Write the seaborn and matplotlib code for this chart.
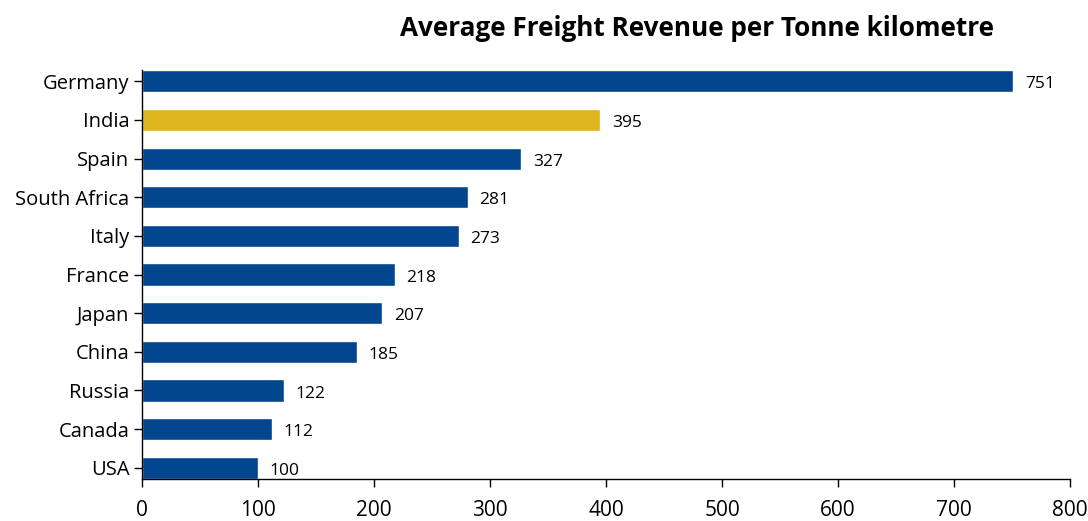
import matplotlib
matplotlib.use("Agg")
import matplotlib.pyplot as plt
import seaborn as sns
import pandas as pd

countries = ["Germany", "India", "Spain", "South Africa", "Italy", "France",
             "Japan", "China", "Russia", "Canada", "USA"]
revenue = [751, 395, 327, 281, 273, 218, 207, 185, 122, 112, 100]
highlight = "India"
x_ticks = [0, 100, 200, 300, 400, 500, 600, 700, 800]
title = "Average Freight Revenue per Tonne kilometre"

BLUE = "#02468F"
GOLD = "#DFB51E"

sns.set_theme(style="white")
plt.rcParams["font.family"] = ["Open Sans", "DejaVu Sans"]

df = pd.DataFrame({"country": countries, "revenue": revenue})
palette = {c: (GOLD if c == highlight else BLUE) for c in countries}

fig = plt.figure(figsize=(10.88, 5.21), dpi=100)
ax = fig.add_axes([0.1305, 0.0806, 0.853, 0.785])

sns.barplot(data=df, x="revenue", y="country", hue="country", palette=palette,
            legend=False, width=0.57, saturation=1, orient="h", ax=ax)

for i, v in enumerate(revenue):
    ax.text(v + 10, i + 0.08, f"{v}", va="center", ha="left",
            fontsize=12.5, color="black")

ax.set_xlim(0, 800)
ax.set_ylim(10.29, -0.29)
ax.set_xticks(x_ticks)
ax.set_xticklabels([str(t) for t in x_ticks], fontsize=15)
ax.tick_params(axis="y", labelsize=14.5, length=6, width=1, direction="out",
               left=True, pad=3, colors="black")
ax.tick_params(axis="x", length=6, width=1, direction="out", bottom=True,
               pad=9, colors="black")
ax.set_xlabel("")
ax.set_ylabel("")

for side in ("top", "right"):
    ax.spines[side].set_visible(False)
for side in ("left", "bottom"):
    ax.spines[side].set_color("black")
    ax.spines[side].set_linewidth(1)

fig.text(0.641, 0.946, title, ha="center", va="center", fontsize=18.8,
         fontweight="bold", color="black")

fig.savefig("out.png", dpi=100, facecolor="white")
